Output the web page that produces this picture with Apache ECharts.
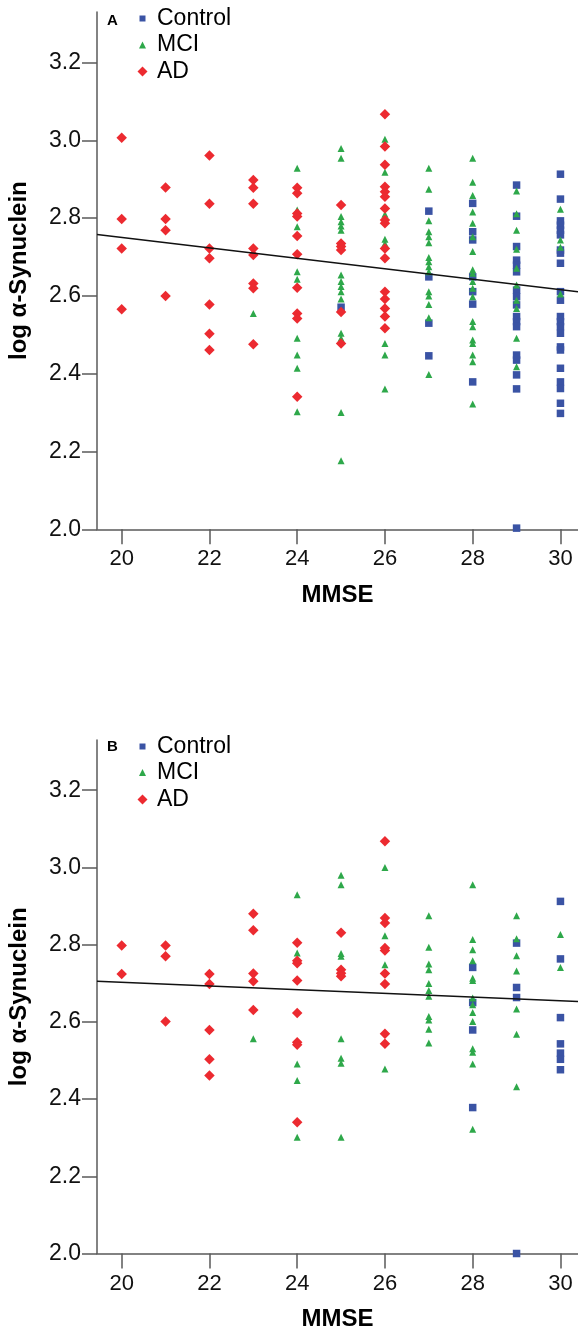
<!DOCTYPE html>
<html>
<head>
<meta charset="utf-8">
<script src="https://cdn.jsdelivr.net/npm/echarts@6/dist/echarts.min.js"></script>
<style>
html,body{margin:0;padding:0;background:#fff;}
#chart{width:578px;height:1334px;}
</style>
</head>
<body>
<div id="chart"></div>
<script>
// ---- tick labels ----
const xTicks = [20, 22, 24, 26, 28, 30];
const yTicks = [2.0, 2.2, 2.4, 2.6, 2.8, 3.0, 3.2];
const groupNames = ['Control', 'MCI', 'AD'];
const panelLabels = ['A', 'B'];

// ---- Panel A data: [MMSE, log alpha-synuclein] ----
const aControl = [
  [25,2.571],
  [27,2.818],[27,2.649],[27,2.530],[27,2.446],
  [28,2.838],[28,2.765],[28,2.744],[28,2.649],[28,2.611],[28,2.579],[28,2.379],
  [29,2.885],[29,2.805],[29,2.727],[29,2.692],[29,2.679],[29,2.662],[29,2.615],[29,2.598],[29,2.577],
  [29,2.547],[29,2.534],[29,2.521],[29,2.448],[29,2.435],[29,2.397],[29,2.361],[29,2.003],
  [30,2.913],[30,2.849],[30,2.793],[30,2.782],[30,2.769],[30,2.757],[30,2.718],[30,2.710],[30,2.684],
  [30,2.611],[30,2.589],[30,2.547],[30,2.534],[30,2.521],[30,2.504],[30,2.469],[30,2.461],[30,2.414],
  [30,2.379],[30,2.362],[30,2.324],[30,2.298]
];
const aMCI = [
  [23,2.555],
  [24,2.928],[24,2.821],[24,2.778],[24,2.662],[24,2.643],[24,2.491],[24,2.448],[24,2.414],[24,2.302],
  [25,2.979],[25,2.954],[25,2.804],[25,2.791],[25,2.780],[25,2.769],[25,2.654],[25,2.637],[25,2.624],
  [25,2.611],[25,2.592],[25,2.504],[25,2.491],[25,2.300],[25,2.176],
  [26,3.003],[26,2.918],[26,2.810],[26,2.746],[26,2.735],[26,2.478],[26,2.448],[26,2.361],
  [27,2.928],[27,2.874],[27,2.793],[27,2.765],[27,2.752],[27,2.737],[27,2.699],[27,2.688],[27,2.675],
  [27,2.662],[27,2.611],[27,2.600],[27,2.578],[27,2.544],[27,2.398],
  [28,2.954],[28,2.892],[28,2.858],[28,2.816],[28,2.787],[28,2.752],[28,2.714],[28,2.667],[28,2.658],
  [28,2.637],[28,2.620],[28,2.598],[28,2.534],[28,2.521],[28,2.487],[28,2.478],[28,2.448],[28,2.431],[28,2.322],
  [29,2.870],[29,2.811],[29,2.769],[29,2.720],[29,2.671],[29,2.628],[29,2.589],[29,2.568],[29,2.491],[29,2.418],
  [30,2.823],[30,2.744],[30,2.725],[30,2.605]
];
const aAD = [
  [20,3.007],[20,2.798],[20,2.722],[20,2.566],
  [21,2.879],[21,2.798],[21,2.769],[21,2.600],
  [22,2.961],[22,2.837],[22,2.722],[22,2.697],[22,2.578],[22,2.503],[22,2.461],
  [23,2.898],[23,2.878],[23,2.837],[23,2.722],[23,2.705],[23,2.632],[23,2.620],[23,2.476],
  [24,2.878],[24,2.864],[24,2.812],[24,2.804],[24,2.754],[24,2.707],[24,2.621],[24,2.555],[24,2.542],[24,2.341],
  [25,2.834],[25,2.735],[25,2.727],[25,2.718],[25,2.559],[25,2.478],
  [26,3.067],[26,2.984],[26,2.937],[26,2.881],[26,2.868],[26,2.855],[26,2.825],[26,2.795],[26,2.787],
  [26,2.722],[26,2.697],[26,2.611],[26,2.592],[26,2.568],[26,2.547],[26,2.517]
];
const aFitLine = [[19.437, 2.758], [30.40, 2.611]];

// ---- Panel B data ----
const bControl = [
  [28,2.741],[28,2.650],[28,2.579],[28,2.378],
  [29,2.804],[29,2.689],[29,2.663],[29,2.000],
  [30,2.912],[30,2.763],[30,2.611],[30,2.543],[30,2.519],[30,2.503],[30,2.476]
];
const bMCI = [
  [23,2.556],
  [24,2.929],[24,2.778],[24,2.491],[24,2.448],[24,2.301],
  [25,2.980],[25,2.955],[25,2.777],[25,2.770],[25,2.556],[25,2.506],[25,2.493],[25,2.301],
  [26,3.000],[26,2.823],[26,2.748],[26,2.478],
  [27,2.875],[27,2.793],[27,2.750],[27,2.735],[27,2.699],[27,2.681],[27,2.666],[27,2.614],[27,2.605],[27,2.581],[27,2.545],
  [28,2.955],[28,2.813],[28,2.787],[28,2.758],[28,2.713],[28,2.707],[28,2.662],[28,2.644],[28,2.624],[28,2.601],
  [28,2.530],[28,2.521],[28,2.491],[28,2.322],
  [29,2.875],[29,2.815],[29,2.771],[29,2.732],[29,2.633],[29,2.568],[29,2.432],
  [30,2.826],[30,2.741]
];
const bAD = [
  [20,2.798],[20,2.724],
  [21,2.798],[21,2.770],[21,2.601],
  [22,2.724],[22,2.698],[22,2.579],[22,2.503],[22,2.461],
  [23,2.880],[23,2.837],[23,2.725],[23,2.705],[23,2.631],
  [24,2.805],[24,2.758],[24,2.752],[24,2.707],[24,2.623],[24,2.547],[24,2.541],[24,2.340],
  [25,2.831],[25,2.735],[25,2.726],[25,2.718],
  [26,3.068],[26,2.869],[26,2.856],[26,2.791],[26,2.785],[26,2.725],[26,2.698],[26,2.569],[26,2.543]
];
const bFitLine = [[19.437, 2.705], [30.40, 2.653]];

// ---- styling ----
const FONT = '"Liberation Sans", Arial, Helvetica, sans-serif';
const COLORS = { Control: '#3A53A4', MCI: '#2EA84A', AD: '#EC2A30' };
const SYMBOLS = { Control: 'rect', MCI: 'triangle', AD: 'diamond' };
const SIZES = { Control: 7.5, MCI: 7, AD: 10.5 };
const AXIS_COLOR = '#5a5a5a';

const grids = [
  { left: 97, top: 12, width: 481, height: 517.3 },
  { left: 97, top: 740, width: 481, height: 513.5 }
];

function xAxisFor(i) {
  return {
    type: 'value', gridIndex: i, min: 19.437, max: 30.40,
    axisLine: { show: true, onZero: false, lineStyle: { color: AXIS_COLOR, width: 1.5 } },
    axisTick: { show: true, inside: false, length: 15, customValues: xTicks, lineStyle: { color: AXIS_COLOR, width: 1.5 } },
    axisLabel: { show: true, customValues: xTicks, margin: 19, fontSize: 22, color: '#111', fontFamily: FONT,
                 showMinLabel: true, showMaxLabel: true, hideOverlap: false },
    splitLine: { show: false },
    name: 'MMSE', nameLocation: 'middle', nameGap: 54,
    nameTextStyle: { fontSize: 24, fontWeight: 'bold', color: '#000', fontFamily: FONT }
  };
}
function yAxisFor(i) {
  return {
    type: 'value', gridIndex: i, min: 2.0, max: 3.33,
    axisLine: { show: true, onZero: false, lineStyle: { color: AXIS_COLOR, width: 1.5 } },
    axisTick: { show: true, inside: false, length: 15, customValues: yTicks, lineStyle: { color: AXIS_COLOR, width: 1.5 } },
    axisLabel: { show: true, customValues: yTicks, margin: 16, fontSize: 23, color: '#111', fontFamily: FONT,
                 formatter: v => Number(v).toFixed(1), hideOverlap: false },
    splitLine: { show: false },
    name: 'log α-Synuclein', nameLocation: 'middle', nameGap: 66, nameRotate: 90,
    nameTextStyle: { fontSize: 24, fontWeight: 'bold', color: '#000', fontFamily: FONT }
  };
}

const panelData = [
  { Control: aControl, MCI: aMCI, AD: aAD, fit: aFitLine },
  { Control: bControl, MCI: bMCI, AD: bAD, fit: bFitLine }
];

const series = [];
panelData.forEach((p, i) => {
  groupNames.forEach(g => {
    series.push({
      name: g, type: 'scatter', xAxisIndex: i, yAxisIndex: i,
      data: p[g], symbol: SYMBOLS[g], symbolSize: SIZES[g],
      itemStyle: { color: COLORS[g], opacity: 1 },
      emphasis: { disabled: true }, z: 2
    });
  });
  series.push({
    name: 'fit', type: 'line', xAxisIndex: i, yAxisIndex: i,
    data: p.fit, symbol: 'none', silent: true,
    lineStyle: { color: '#111', width: 1.5 }, z: 5, animation: false
  });
});

// legend: one per item so icon sizes can differ
const legendCenters = [[19, 45.5, 72], [747, 773, 800]];
const legendIconW = { Control: 6, MCI: 7, AD: 10 };
const legends = [];
legendCenters.forEach(rows => {
  groupNames.forEach((g, k) => {
    const w = legendIconW[g];
    legends.push({
      data: [{ name: g, icon: SYMBOLS[g], itemStyle: { color: COLORS[g] } }],
      orient: 'vertical', left: 142.5 - w / 2, top: rows[k] - 12, padding: 0,
      itemWidth: w, itemHeight: w, selectedMode: false,
      textStyle: { fontSize: 23, color: '#000', fontFamily: FONT, padding: [0, 0, 0, 157 - (142.5 + w / 2) - 5] }
    });
  });
});

const titles = panelLabels.map((t, i) => ({
  text: t, left: 107, top: i === 0 ? 13 : 739, padding: 0,
  textStyle: { fontSize: 15, fontWeight: 'bold', color: '#000', fontFamily: FONT }
}));

const chart = echarts.init(document.getElementById('chart'), null, { renderer: 'canvas' });
chart.setOption({
  animation: false,
  backgroundColor: '#fff',
  title: titles,
  legend: legends,
  grid: grids.map(g => Object.assign({ outerBoundsMode: 'none', containLabel: false }, g)),
  xAxis: [xAxisFor(0), xAxisFor(1)],
  yAxis: [yAxisFor(0), yAxisFor(1)],
  series: series
});
</script>
</body>
</html>
